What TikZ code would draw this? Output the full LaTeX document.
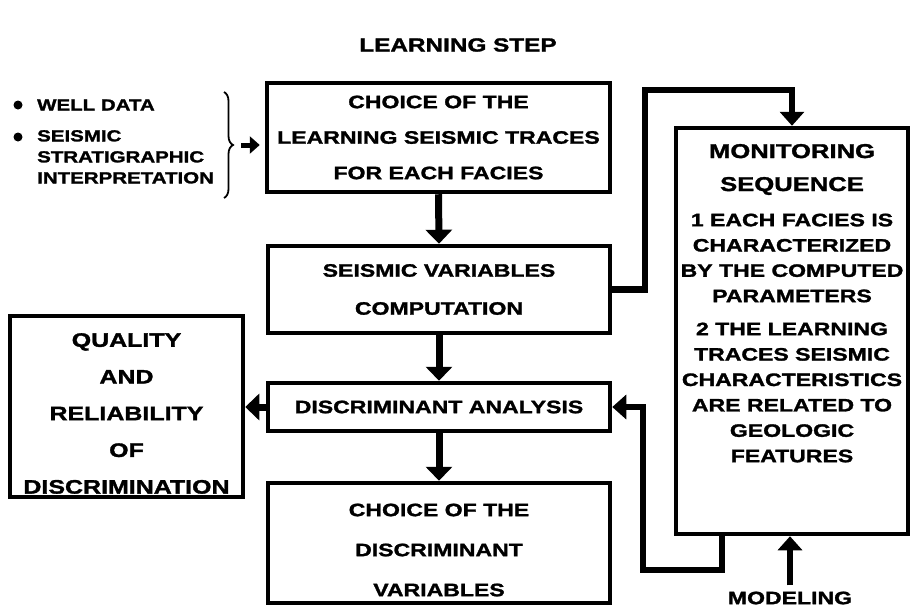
\documentclass[tikz,border=0pt]{standalone}
\usepackage{fontspec}
\setmainfont{Liberation Sans}[FakeStretch=1.28, BoldFeatures={FakeBold=1.6}]
\usetikzlibrary{arrows.meta,decorations.pathreplacing}
\tikzset{
  flowbox/.style={draw, line width=4.5pt, inner sep=0pt, align=center},
  boxtext/.style={inner sep=0pt, align=center, font=\fontsize{18}{#1}\selectfont\bfseries},
  flow/.style={line width=7pt, -{Triangle[length=14pt,width=26pt]}},
  link/.style={line width=6.5pt, line join=miter, -{Triangle[length=14pt,width=24pt]}},
  lbl/.style={inner sep=0pt, align=left, font=\fontsize{16}{21}\selectfont\bfseries},
}
\begin{document}
\begin{tikzpicture}[x=1pt,y=-1pt]
\useasboundingbox (0,0) rectangle (912,610);

% title
\node[inner sep=0pt, font=\fontsize{19}{22}\selectfont\bfseries] (title) at (458,45) {LEARNING STEP};

% left inputs
\node[circle, fill, inner sep=0pt, minimum size=9pt] (bul1) at (18,105) {};
\node[circle, fill, inner sep=0pt, minimum size=9pt] (bul2) at (18,137) {};
\node[lbl, anchor=west] (well) at (37,105) {WELL DATA};
\node[lbl, anchor=north west] (seis) at (37,130) {SEISMIC\\STRATIGRAPHIC\\INTERPRETATION};
\coordinate (br1) at (224,92);
\coordinate (br2) at (224,198);
\draw[decorate, decoration={brace, amplitude=9pt}, line width=1.8pt] (br1) -- (br2);

% boxes
\node[flowbox, minimum width=343pt, minimum height=109pt, font=\fontsize{18}{35.5}\selectfont\bfseries] (b1) at (438.5,137.5)
  {CHOICE OF THE\\LEARNING SEISMIC TRACES\\FOR EACH FACIES};
\node[flowbox, minimum width=342pt, minimum height=87pt, font=\fontsize{18}{38}\selectfont\bfseries] (b2) at (439,289.5)
  {SEISMIC VARIABLES\\COMPUTATION};
\node[flowbox, minimum width=342pt, minimum height=48pt, font=\fontsize{18}{22}\selectfont\bfseries] (b3) at (439,407)
  {DISCRIMINANT ANALYSIS};
\node[flowbox, minimum width=342pt, minimum height=120pt] (b4) at (439,543) {};
\node[boxtext=40] (b4t) at (439,550) {CHOICE OF THE\\DISCRIMINANT\\VARIABLES};
\node[flowbox, minimum width=233pt, minimum height=181pt] (qual) at (126.5,406.5) {};
\node[inner sep=0pt, align=center, font=\fontsize{19.5}{36.7}\selectfont\bfseries] (qualt) at (126.5,413.5)
  {QUALITY\\AND\\RELIABILITY\\OF\\DISCRIMINATION};
\node[flowbox, minimum width=232pt, minimum height=406pt] (mon) at (792,331) {};
\node[inner sep=0pt, align=center, font=\fontsize{20}{33}\selectfont\bfseries] (mhead) at (792,169.5)
  {MONITORING\\SEQUENCE};
\node[boxtext=25.3] (mit1) at (792,258)
  {1 EACH FACIES IS\\CHARACTERIZED\\BY THE COMPUTED\\PARAMETERS};
\node[boxtext=25.4] (mit2) at (792,392.5)
  {2 THE LEARNING\\TRACES SEISMIC\\CHARACTERISTICS\\ARE RELATED TO\\GEOLOGIC\\FEATURES};

\node[boxtext=22] (model) at (790,598) {MODELING};

% connectors
\coordinate (ba) at (241,145);
\draw[line width=5pt, -{Triangle[length=10pt,width=17pt]}] (ba) -- ([xshift=-5pt]ba -| b1.west);
\draw[flow] (b1.south) -- (b2.north);
\draw[flow] (b2.south) -- (b3.north);
\draw[flow] (b3.south) -- (b4.north);
\draw[flow] (b3.west) -- (b3.west -| qual.east);
\coordinate (c1) at (645,90);
\draw[link] (b2.east) -| (c1) -| (mon.north);
\coordinate (c2) at (643,570);
\draw[link] ([xshift=-70pt]mon.south) |- (c2) |- (b3.east);
\draw[link] ([yshift=6pt]model.north) -- (model.north |- mon.south);
\end{tikzpicture}
\end{document}
